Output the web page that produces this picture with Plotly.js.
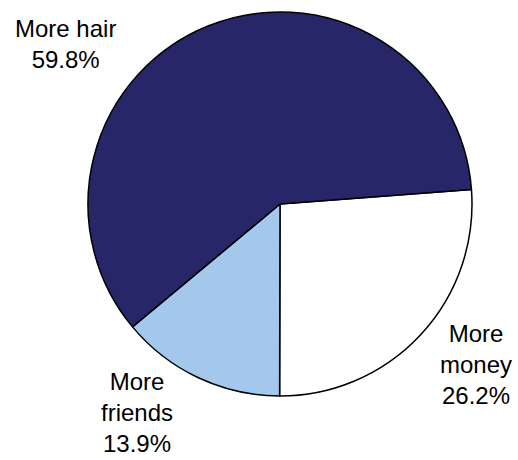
<!DOCTYPE html>
<html>
<head>
<meta charset="utf-8">
<script src="https://cdn.plot.ly/plotly-3.0.1.min.js"></script>
<style>html,body{margin:0;padding:0;background:#fff;}#chart{width:518px;height:460px;}</style>
</head>
<body>
<div id="chart"></div>
<script>
// Data
const labels = ["More money", "More friends", "More hair"];
const labelLines = ["More<br>money", "More<br>friends", "More hair"];
const values = [26.2, 13.9, 59.8];
const colors = ["#ffffff", "#a4c8eb", "#262669"];

// Label positions (pixel centres) for annotations
const labelPos = [[476, 364], [137, 412], [65, 44]];

const W = 518, H = 460;
const annotations = labels.map((l, i) => ({
  text: labelLines[i] + "<br>" + values[i].toFixed(1) + "%",
  xref: "paper", yref: "paper",
  x: labelPos[i][0] / W, y: 1 - labelPos[i][1] / H,
  xanchor: "center", yanchor: "middle",
  showarrow: false, align: "center", borderpad: 0,
  font: {family: "Liberation Sans, Arial, sans-serif", size: 24, color: "#000"}
}));

const trace = {
  type: "pie",
  labels: labels,
  values: values,
  sort: false,
  direction: "clockwise",
  rotation: 85.7,
  textinfo: "none",
  hoverinfo: "none",
  marker: {colors: colors, line: {color: "#000", width: 1.5}},
  domain: {x: [88 / W, 472 / W], y: [1 - 396 / H, 1 - 12 / H]}
};

Plotly.newPlot("chart", [trace], {
  width: W, height: H,
  margin: {l: 0, r: 0, t: 0, b: 0},
  showlegend: false,
  paper_bgcolor: "#fff",
  annotations: annotations
}, {staticPlot: true});
</script>
</body>
</html>
